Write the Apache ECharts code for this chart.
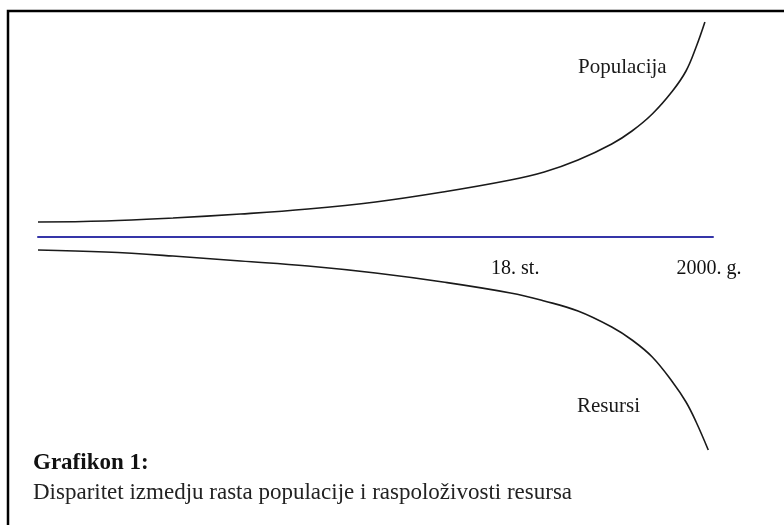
<!DOCTYPE html>
<html>
<head>
<meta charset="utf-8">
<script src="https://cdn.jsdelivr.net/npm/echarts@6/dist/echarts.min.js"></script>
<style>
html,body{margin:0;padding:0;background:#fff;}
#c{width:784px;height:525px;}
</style>
</head>
<body>
<div id="c"></div>
<script>
// Time index (0 = far past, 100 = year 2000) vs. deviation from the baseline
const timeIndex = [0, 10, 20, 30, 40, 50, 60, 70, 75, 80, 85, 88, 91, 94, 96, 97.5, 98.8];
const populacija = [15, 16, 19, 23, 28, 35, 45, 57, 65, 77, 93, 106, 123, 146, 166, 190, 215];
const resursiTime = [0, 10, 20, 30, 40, 50, 60, 70, 75, 80, 85, 88, 91, 94, 96, 97.5, 99.3];
const resursi = [-13, -15, -19, -24, -29, -36, -45, -56, -64, -74, -90, -103, -120, -145, -165, -185, -213];
const tickPositions = [70.7, 99.4];
const tickLabels = ['18. st.', '2000. g.'];
const seriesNames = ['Populacija', 'Resursi'];
const captionTitle = 'Grafikon 1:';
const captionText = 'Disparitet izmedju rasta populacije i raspoloživosti resursa';

const chart = echarts.init(document.getElementById('c'));
const serif = '"Liberation Serif", "DejaVu Serif", serif';

chart.setOption({
  animation: false,
  backgroundColor: '#ffffff',
  grid: { left: 38, right: 71, top: 22, bottom: 73 },
  xAxis: {
    type: 'value', min: 0, max: 100,
    axisLine: { show: true, onZero: true, lineStyle: { color: '#3535a8', width: 2 } },
    axisTick: { show: false },
    splitLine: { show: false },
    axisLabel: { show: false }
  },
  yAxis: {
    type: 'value', min: -215, max: 215, show: true,
    axisLine: { show: false }, axisTick: { show: false },
    axisLabel: { show: false }, splitLine: { show: false }
  },
  series: [
    {
      name: seriesNames[0], type: 'line', smooth: 0.4, symbol: 'none',
      lineStyle: { color: '#1a1a1a', width: 1.6 },
      data: timeIndex.map((t, i) => [t, populacija[i]])
    },
    {
      name: seriesNames[1], type: 'line', smooth: 0.4, symbol: 'none',
      lineStyle: { color: '#1a1a1a', width: 1.6 },
      data: resursiTime.map((t, i) => [t, resursi[i]])
    },
    {
      name: 'ticks', type: 'scatter', symbolSize: 1, silent: true,
      itemStyle: { color: 'rgba(0,0,0,0)' },
      data: tickPositions.map((t, i) => ({ value: [t, 0], name: tickLabels[i] })),
      label: {
        show: true, position: 'bottom', distance: 21,
        formatter: '{b}', color: '#111', opacity: 1,
        textBorderWidth: 0, fontFamily: serif, fontSize: 20
      }
    }
  ],
  graphic: [
    { type: 'rect', shape: { x: 8, y: 11, width: 800, height: 600 },
      style: { fill: 'none', stroke: '#000', lineWidth: 2.5 }, silent: true },
    { type: 'text', left: 578, top: 57,
      style: { text: seriesNames[0], font: '21px ' + serif, fill: '#1a1a1a' } },
    { type: 'text', left: 577, top: 396,
      style: { text: seriesNames[1], font: '21px ' + serif, fill: '#1a1a1a' } },
    { type: 'text', left: 33, top: 452,
      style: { text: captionTitle, font: 'bold 23px ' + serif, fill: '#111' } },
    { type: 'text', left: 33, top: 481,
      style: { text: captionText, font: '23px ' + serif, fill: '#222' } }
  ]
});
</script>
</body>
</html>
